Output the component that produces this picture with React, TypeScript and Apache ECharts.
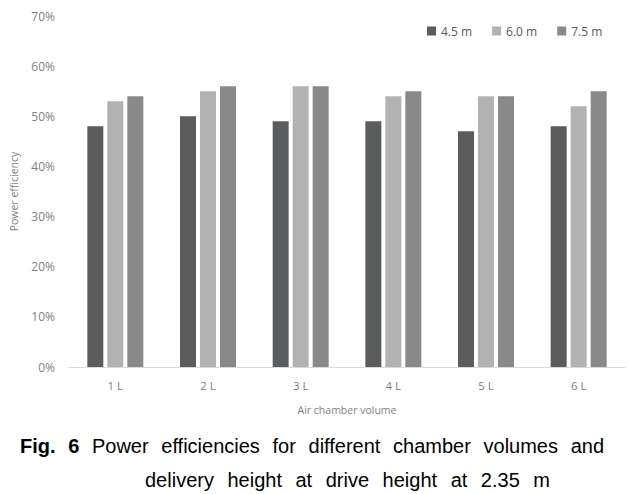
import React, { useEffect, useRef } from "react";
import * as echarts from "echarts";

const categories = ["1 L", "2 L", "3 L", "4 L", "5 L", "6 L"];
const seriesNames = ["4.5 m", "6.0 m", "7.5 m"];
const values45 = [48, 50, 49, 49, 47, 48];
const values60 = [53, 55, 56, 54, 54, 52];
const values75 = [54, 56, 56, 55, 54, 55];
const yTicks = [0, 10, 20, 30, 40, 50, 60, 70];
const colors = ["#5b5c5e", "#b2b2b2", "#898989"];

const captionLine1 = ["Fig.", "6", "Power", "efficiencies", "for", "different", "chamber", "volumes", "and"];
const captionLine2 = ["delivery", "height", "at", "drive", "height", "at", "2.35", "m"];

const CAP_FAMILY = "'Liberation Sans', Arial, sans-serif";

function measure(text: string, font: string): number {
  const c = document.createElement("canvas");
  const ctx = c.getContext("2d");
  if (!ctx) return text.length * 10;
  ctx.font = font;
  return ctx.measureText(text).width;
}

function justify(words: string[], x0: number, x1: number, y: number, boldCount: number) {
  const fonts = words.map((_, i) => `${i < boldCount ? "bold " : ""}20px ${CAP_FAMILY}`);
  const widths = words.map((w, i) => measure(w, fonts[i]));
  const total = widths.reduce((a, b) => a + b, 0);
  const gap = (x1 - x0 - total) / (words.length - 1);
  let x = x0;
  return words.map((w, i) => {
    const el = {
      type: "text",
      x,
      y,
      style: {
        text: w,
        fill: "#000",
        fontSize: 20,
        fontWeight: i < boldCount ? "bold" : "normal",
        fontFamily: CAP_FAMILY,
        textAlign: "left",
        textVerticalAlign: "middle",
      },
    };
    x += widths[i] + gap;
    return el;
  });
}

export default function App() {
  const ref = useRef<HTMLDivElement>(null);
  useEffect(() => {
    if (!ref.current) return;
    const chart = echarts.init(ref.current, undefined, { renderer: "svg" });
    const font = "'Open Sans', 'Noto Sans', sans-serif";
    const data = [values45, values60, values75];
    chart.setOption({
      animation: false,
      backgroundColor: "#ffffff",
      grid: { left: 67, right: 5, top: 16, bottom: 127 },
      legend: {
        data: seriesNames,
        left: 422,
        top: 20,
        itemWidth: 9,
        itemHeight: 9,
        itemGap: 20,
        icon: "rect",
        textStyle: { fontSize: 12, color: "#595959", fontFamily: font },
      },
      xAxis: {
        type: "category",
        data: categories,
        name: "Air chamber volume",
        nameLocation: "middle",
        nameGap: 37,
        nameTextStyle: { fontSize: 10.5, color: "#7f7f7f", fontFamily: font },
        axisLine: { show: true, lineStyle: { color: "#d9d9d9", width: 1 } },
        axisTick: { show: false },
        axisLabel: { fontSize: 11.5, color: "#7f7f7f", margin: 12, fontFamily: font },
      },
      yAxis: {
        type: "value",
        min: yTicks[0],
        max: yTicks[yTicks.length - 1],
        interval: 10,
        name: "Power efficiency",
        nameLocation: "middle",
        nameGap: 50,
        nameTextStyle: { fontSize: 10.5, color: "#7f7f7f", fontFamily: font },
        axisLine: { show: false },
        axisTick: { show: false },
        splitLine: { show: false },
        axisLabel: { formatter: "{value}%", fontSize: 12, color: "#7f7f7f", margin: 14, fontFamily: font },
      },
      series: seriesNames.map((n, i) => ({
        name: n,
        type: "bar",
        data: data[i],
        barWidth: 16,
        barGap: "25%",
        itemStyle: { color: colors[i] },
      })),
      graphic: [
        ...justify(captionLine1, 20, 604, 446, 2),
        ...justify(captionLine2, 145, 550, 480, 0),
      ],
    });
    return () => chart.dispose();
  }, []);
  return (
    <div
      ref={ref}
      style={{ position: "fixed", left: 0, top: 0, width: 630, height: 494, background: "#fff" }}
    />
  );
}
